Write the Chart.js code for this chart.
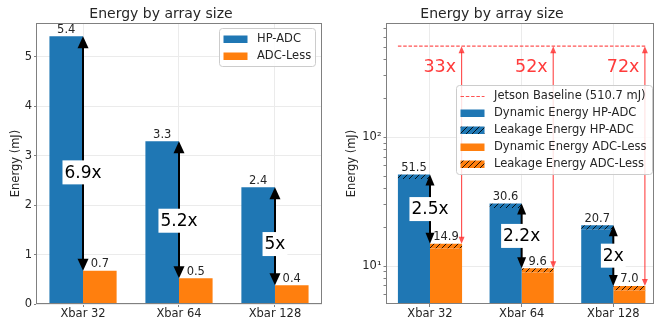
<!DOCTYPE html>
<html><head><meta charset="utf-8">
<script src="https://cdn.jsdelivr.net/npm/chart.js@4"></script>
<style>
html,body{margin:0;padding:0;background:#fff;}
#wrap{position:relative;width:659px;height:320px;overflow:hidden;}
#c1{position:absolute;left:0;top:0;}
#c2{position:absolute;left:330px;top:0;}
</style></head><body>
<div id="wrap"><canvas id="c1" width="330" height="320"></canvas><canvas id="c2" width="329" height="320"></canvas></div>
<script>
// ---------- data ----------
const categories = ['Xbar 32', 'Xbar 64', 'Xbar 128'];
const chartTitle = 'Energy by array size';
const yAxisTitle = 'Energy (mJ)';

// left panel (linear)
const hpAdcEnergy = [5.41, 3.29, 2.36];
const adcLessEnergy = [0.67, 0.52, 0.38];
const leftRatioLabels = ['6.9x', '5.2x', '5x'];
const leftYTicks = [0, 1, 2, 3, 4, 5];
const leftLegend = ['HP-ADC', 'ADC-Less'];

// right panel (log)
const hpDynamic = [47.5, 28.2, 19.1];
const hpLeakage = [4.0, 2.4, 1.6];
const lessDynamic = [13.7, 8.9, 6.45];
const lessLeakage = [1.2, 0.7, 0.55];
const rightRatioLabels = ['2.5x', '2.2x', '2x'];
const jetsonBaseline = 510.7;
const jetsonRatioLabels = ['33x', '52x', '72x'];
const rightMajorTicks = [10, 100];
const rightMajorLabels = ['10¹', '10²'];
const rightMinorTicks = [6, 7, 8, 9, 20, 30, 40, 50, 60, 70, 80, 90, 200, 300, 400, 500, 600, 700];
const rightLegend = ['Jetson Baseline (510.7 mJ)', 'Dynamic Energy HP-ADC', 'Leakage Energy HP-ADC', 'Dynamic Energy ADC-Less', 'Leakage Energy ADC-Less'];

// ---------- style ----------
const FONT = "'DejaVu Sans', sans-serif";
Chart.defaults.font.family = FONT;
Chart.defaults.color = '#262626';
const BLUE = '#1f77b4', ORANGE = '#ff7f0e', GRID = '#ebebeb', SPINE = '#808080', TXT = '#262626';
const RED_LINE = 'rgba(255,40,40,0.8)', RED_TXT = '#ff3b3b';

function hatchPattern(color) {
  const c = document.createElement('canvas');
  c.width = 6; c.height = 6;
  const g = c.getContext('2d');
  g.fillStyle = color; g.fillRect(0, 0, 6, 6);
  g.strokeStyle = 'rgba(0,0,0,0.85)'; g.lineWidth = 1;
  g.beginPath();
  g.moveTo(0, 6); g.lineTo(6, 0);
  g.moveTo(-1, 1); g.lineTo(1, -1);
  g.moveTo(5, 7); g.lineTo(7, 5);
  g.stroke();
  return g.createPattern(c, 'repeat');
}
const BLUE_H = hatchPattern(BLUE), ORANGE_H = hatchPattern(ORANGE);

function drawSpines(chart) {
  const ctx = chart.ctx, a = chart.chartArea;
  const l = Math.round(a.left), t = Math.round(a.top), r = Math.round(a.right), b = Math.round(a.bottom);
  ctx.save(); ctx.strokeStyle = SPINE; ctx.lineWidth = 1;
  ctx.strokeRect(l + 0.5, t + 0.5, r - l - 1, b - t - 1);
  ctx.restore();
}
function valueLabel(ctx, x, yTop, text) {
  ctx.save(); ctx.font = '11.5px ' + FONT; ctx.fillStyle = TXT;
  ctx.textAlign = 'center'; ctx.textBaseline = 'alphabetic';
  ctx.fillText(text, x, yTop - 3.5); ctx.restore();
}
function dblArrow(ctx, x, y1, y2, color, lw, hw, hl) {
  ctx.save(); ctx.strokeStyle = color; ctx.fillStyle = color; ctx.lineWidth = lw;
  ctx.beginPath(); ctx.moveTo(x, y1 + hl * 0.8); ctx.lineTo(x, y2 - hl * 0.8); ctx.stroke();
  ctx.beginPath(); ctx.moveTo(x, y1); ctx.lineTo(x - hw / 2, y1 + hl); ctx.lineTo(x + hw / 2, y1 + hl); ctx.closePath(); ctx.fill();
  ctx.beginPath(); ctx.moveTo(x, y2); ctx.lineTo(x - hw / 2, y2 - hl); ctx.lineTo(x + hw / 2, y2 - hl); ctx.closePath(); ctx.fill();
  ctx.restore();
}
function boxedLabel(ctx, x, cy, text) {
  ctx.save(); ctx.font = '17px ' + FONT;
  const w = ctx.measureText(text).width;
  ctx.fillStyle = '#fff'; ctx.fillRect(x - w / 2 - 2, cy - 12, w + 4, 24);
  ctx.fillStyle = '#000'; ctx.textAlign = 'center'; ctx.textBaseline = 'middle';
  ctx.fillText(text, x, cy + 1); ctx.restore();
}
function drawLegend(ctx, x, y, w, h, items) {
  ctx.save();
  ctx.beginPath(); ctx.roundRect(x + 0.5, y + 0.5, w, h, 3);
  ctx.fillStyle = 'rgba(255,255,255,0.85)'; ctx.fill();
  ctx.strokeStyle = '#cccccc'; ctx.lineWidth = 1; ctx.stroke();
  ctx.font = '11.5px ' + FONT; ctx.textBaseline = 'middle'; ctx.textAlign = 'left';
  items.forEach((it, k) => {
    const cy = y + 11 + k * 17;
    const px = x + 4.5;
    if (it.dash) {
      ctx.strokeStyle = it.dash; ctx.lineWidth = 1.2; ctx.setLineDash([3.5, 1.8]);
      ctx.beginPath(); ctx.moveTo(px, cy + 0.5); ctx.lineTo(px + 24, cy + 0.5); ctx.stroke();
      ctx.setLineDash([]);
    } else {
      ctx.fillStyle = it.fill; ctx.fillRect(px, cy - 3.5, 24, 7.5);
    }
    ctx.fillStyle = TXT; ctx.fillText(it.text, x + 38, cy + 0.5);
  });
  ctx.restore();
}

function xScaleOpts(min, max) {
  return {
    type: 'linear', min: min, max: max, offset: false,
    afterBuildTicks: s => { s.ticks = categories.map((c, i) => ({ value: i })); },
    ticks: { callback: v => categories[v], font: { size: 11.5 }, color: TXT, padding: 0, maxRotation: 0, autoSkip: false },
    grid: { color: GRID, tickColor: SPINE, tickLength: 3, offset: false },
    border: { display: false },
    afterFit: s => { s.height = 16; }
  };
}
const titleOpts = { display: true, text: chartTitle, color: TXT, font: { size: 14, weight: 'normal' }, padding: { top: 6.2, bottom: 0 } };

// ---------- left chart ----------
const leftPlugin = {
  id: 'leftDecor',
  afterDatasetsDraw(chart) {
    const ctx = chart.ctx, xs = chart.scales.x;
    drawSpines(chart);
    const m0 = chart.getDatasetMeta(0).data, m1 = chart.getDatasetMeta(1).data;
    categories.forEach((c, i) => {
      valueLabel(ctx, m0[i].x, m0[i].y, hpAdcEnergy[i].toFixed(1));
      valueLabel(ctx, m1[i].x, m1[i].y, adcLessEnergy[i].toFixed(1));
      const cx = xs.getPixelForValue(i);
      dblArrow(ctx, cx, m0[i].y, m1[i].y, '#000', 2, 11, 12);
      boxedLabel(ctx, cx, m0[i].y + 0.58 * (m1[i].y - m0[i].y), leftRatioLabels[i]);
    });
    drawLegend(ctx, 219, 28, 96, 38, [
      { fill: BLUE, text: leftLegend[0] },
      { fill: ORANGE, text: leftLegend[1] }
    ]);
  }
};
new Chart(document.getElementById('c1'), {
  type: 'bar',
  data: {
    datasets: [
      { label: leftLegend[0], data: hpAdcEnergy.map((v, i) => ({ x: i, y: v })), backgroundColor: BLUE, stack: 'hp' },
      { label: leftLegend[1], data: adcLessEnergy.map((v, i) => ({ x: i, y: v })), backgroundColor: ORANGE, stack: 'less' }
    ]
  },
  options: {
    responsive: false, animation: false, devicePixelRatio: 1,
    datasets: { bar: { categoryPercentage: 0.7, barPercentage: 1.0, borderWidth: 0 } },
    layout: { padding: { left: 0, right: 8, top: 0, bottom: 0 } },
    plugins: { legend: { display: false }, tooltip: { enabled: false }, title: titleOpts },
    scales: {
      x: xScaleOpts(-0.49, 2.49),
      y: {
        type: 'linear', min: 0, max: 5.68,
        afterBuildTicks: s => { s.ticks = leftYTicks.map(v => ({ value: v })); },
        ticks: { font: { size: 11.5 }, color: TXT, padding: 2 },
        grid: { color: GRID, tickColor: SPINE, tickLength: 2 },
        border: { display: false },
        title: { display: true, text: yAxisTitle, color: TXT, font: { size: 11.5 }, padding: { top: 9, bottom: 0 } },
        afterFit: s => { s.width = 36; }
      }
    }
  },
  plugins: [leftPlugin]
});

// ---------- right chart ----------
const rightPlugin = {
  id: 'rightDecor',
  afterDatasetsDraw(chart) {
    const ctx = chart.ctx, xs = chart.scales.x, ys = chart.scales.y;
    drawSpines(chart);
    const hpTop = chart.getDatasetMeta(1).data, lessTop = chart.getDatasetMeta(3).data, hpBase = chart.getDatasetMeta(0).data;
    const by = ys.getPixelForValue(jetsonBaseline);
    // baseline
    const x0 = hpBase[0].x - hpBase[0].width / 2, x1 = lessTop[2].x + lessTop[2].width / 2;
    ctx.save(); ctx.strokeStyle = RED_LINE; ctx.lineWidth = 1.2; ctx.setLineDash([3.5, 1.8]);
    ctx.beginPath(); ctx.moveTo(x0, by); ctx.lineTo(x1, by); ctx.stroke(); ctx.restore();
    categories.forEach((c, i) => {
      const ax = lessTop[i].x + lessTop[i].width / 2 - 0.5;
      dblArrow(ctx, ax, by, lessTop[i].y, RED_LINE, 1.2, 6, 7);
      ctx.save(); ctx.font = '17.5px ' + FONT; ctx.fillStyle = RED_TXT; ctx.textAlign = 'right'; ctx.textBaseline = 'middle';
      ctx.fillText(jetsonRatioLabels[i], ax - 5.5, by + 21); ctx.restore();
    });
    categories.forEach((c, i) => {
      valueLabel(ctx, hpTop[i].x, hpTop[i].y, (hpDynamic[i] + hpLeakage[i]).toFixed(1));
      valueLabel(ctx, lessTop[i].x, lessTop[i].y, (lessDynamic[i] + lessLeakage[i]).toFixed(1));
      const cx = xs.getPixelForValue(i);
      dblArrow(ctx, cx, hpTop[i].y, lessTop[i].y, '#000', 2, 9, 11);
      boxedLabel(ctx, cx, (hpTop[i].y + lessTop[i].y) / 2, rightRatioLabels[i]);
    });
    drawLegend(ctx, 126, 85, 196, 89, [
      { dash: RED_LINE, text: rightLegend[0] },
      { fill: BLUE, text: rightLegend[1] },
      { fill: BLUE_H, text: rightLegend[2] },
      { fill: ORANGE, text: rightLegend[3] },
      { fill: ORANGE_H, text: rightLegend[4] }
    ]);
  }
};
new Chart(document.getElementById('c2'), {
  type: 'bar',
  data: {
    datasets: [
      { label: rightLegend[1], data: hpDynamic.map((v, i) => ({ x: i, y: v })), backgroundColor: BLUE, stack: 'hp' },
      { label: rightLegend[2], data: hpLeakage.map((v, i) => ({ x: i, y: v })), backgroundColor: BLUE_H, stack: 'hp' },
      { label: rightLegend[3], data: lessDynamic.map((v, i) => ({ x: i, y: v })), backgroundColor: ORANGE, stack: 'less' },
      { label: rightLegend[4], data: lessLeakage.map((v, i) => ({ x: i, y: v })), backgroundColor: ORANGE_H, stack: 'less' }
    ]
  },
  options: {
    responsive: false, animation: false, devicePixelRatio: 1,
    datasets: { bar: { categoryPercentage: 0.7, barPercentage: 1.0, borderWidth: 0 } },
    layout: { padding: { left: 0, right: 5, top: 0, bottom: 0 } },
    plugins: { legend: { display: false }, tooltip: { enabled: false }, title: titleOpts },
    scales: {
      x: xScaleOpts(-0.48, 2.444),
      y: {
        type: 'logarithmic', min: 5.07, max: 773, stacked: true,
        afterBuildTicks: s => {
          s.ticks = rightMajorTicks.concat(rightMinorTicks).sort((a, b) => a - b).map(v => ({ value: v, major: rightMajorTicks.includes(v) }));
        },
        ticks: {
          autoSkip: false, font: { size: 11.5 }, color: TXT, padding: 2,
          callback: v => { const k = rightMajorTicks.indexOf(v); return k >= 0 ? rightMajorLabels[k] : ''; }
        },
        grid: {
          color: ctx => (ctx.tick && rightMajorTicks.includes(ctx.tick.value)) ? GRID : 'rgba(0,0,0,0)',
          tickColor: SPINE, tickLength: 2.5
        },
        border: { display: false },
        title: { display: true, text: yAxisTitle, color: TXT, font: { size: 11.5 }, padding: { top: 15, bottom: 0 } },
        afterFit: s => { s.width = 56; }
      }
    }
  },
  plugins: [rightPlugin]
});
</script>
</body></html>
